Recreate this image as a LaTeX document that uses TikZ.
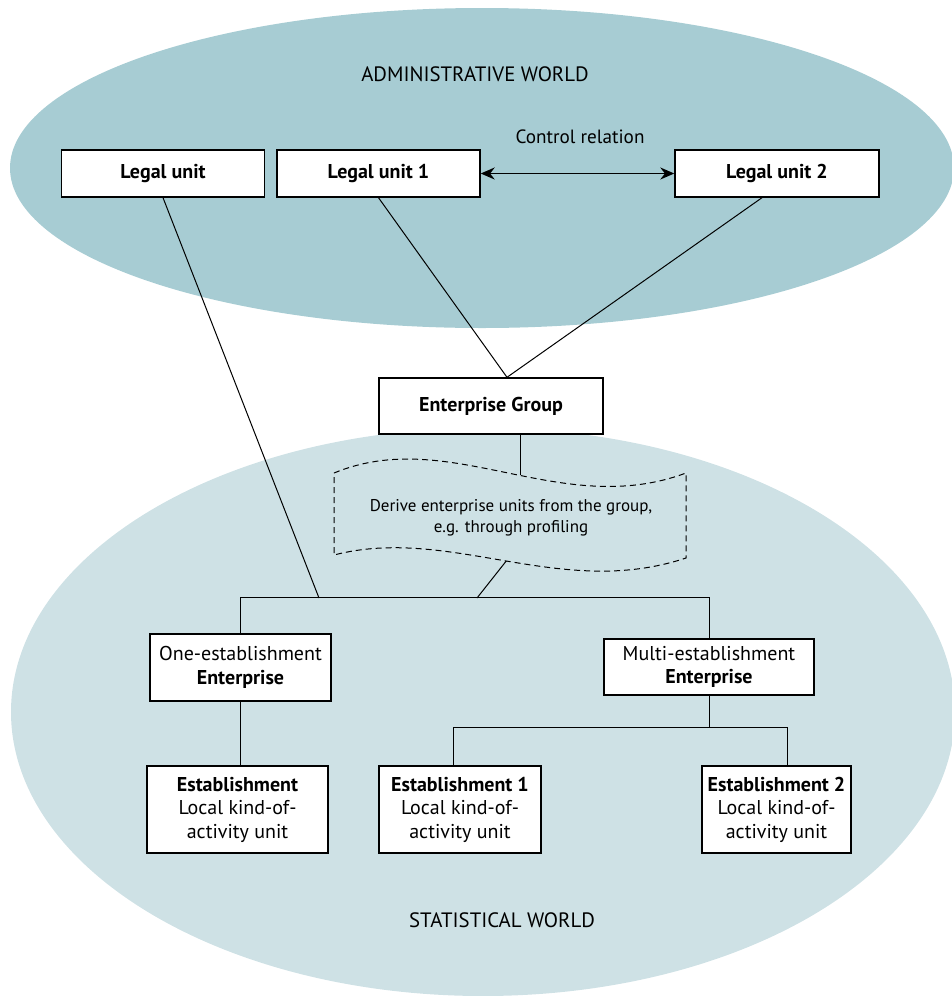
\documentclass[tikz,border=0pt]{standalone}
\usepackage{fontspec}
\setmainfont{PT Sans}
\usetikzlibrary{arrows.meta}

\definecolor{adminworld}{HTML}{A7CCD3}
\definecolor{statworld}{HTML}{CEE1E5}

\begin{document}
\begin{tikzpicture}[x=0.5pt, y=-0.5pt,
    font=\fontsize{10}{11.75}\selectfont,
    unitbox/.style={draw, line width=0.7pt, fill=white, align=center, inner sep=2pt},
    world/.style={font=\fontsize{10.4}{12}\selectfont},
    link/.style={line width=0.5pt}]
   \clip (0,0) rectangle (952,996);
   \fill[adminworld] (482,168) ellipse [x radius=236pt, y radius=80pt];
   \fill[statworld] (483,712) ellipse [x radius=236pt, y radius=142pt];

   \node(AW)[world] at (475,74) {ADMINISTRATIVE WORLD};
   \node(SW)[world] at (502,920) {STATISTICAL WORLD};

   % legal units
   \node(LU)[unitbox, minimum width=101.5pt, minimum height=23.5pt] at (163,173.5) {\textbf{Legal unit}};
   \node(LU1)[unitbox, minimum width=101.5pt, minimum height=23.5pt] at (378.5,173.5) {\textbf{Legal unit 1}};
   \node(LU2)[unitbox, minimum width=102pt, minimum height=23.5pt] at (777,173.5) {\textbf{Legal unit 2}};
   \node(CR)[font=\fontsize{9.6}{11}\selectfont] at (580,137) {Control relation};
   \draw[{Stealth[length=7pt,width=6pt]}-{Stealth[length=7pt,width=6pt]}, line width=0.7pt] (LU1) -- (LU2);

   % group and profiling
   \node(EG)[unitbox, minimum width=112pt, minimum height=28pt] at (491,406) {\textbf{Enterprise Group}};
   \draw[link, dash pattern=on 3pt off 2pt]
    (334,473) .. controls (450,425) and (560,520) .. (686,473) coordinate[pos=0.54](TT)
    -- (686,558) .. controls (560,600) and (450,525) .. (334,555) coordinate[pos=0.5](TB)
    -- cycle;
   \node(DR)[font=\fontsize{8.5}{10.5}\selectfont, align=center] at (511,517.5)
    {Derive enterprise units from the group,\\e.g. through profiling};

   % enterprises
   \node(OE)[unitbox, minimum width=90.5pt, minimum height=33.5pt] at (240.5,667.5) {One-establishment\\\textbf{Enterprise}};
   \node(ME)[unitbox, minimum width=105pt, minimum height=28pt] at (709,667) {Multi-establishment\\\textbf{Enterprise}};

   % establishments
   \node(ES)[unitbox, minimum width=90.5pt, minimum height=43.5pt] at (237.5,809.5) {\textbf{Establishment}\\Local kind-of-\\activity unit};
   \node(ES1)[unitbox, minimum width=81pt, minimum height=43.5pt] at (460,809.5) {\textbf{Establishment 1}\\Local kind-of-\\activity unit};
   \node(ES2)[unitbox, minimum width=74.5pt, minimum height=43.5pt] at (776.5,809.5) {\textbf{Establishment 2}\\Local kind-of-\\activity unit};

   \coordinate(BA) at (319,598);
   \coordinate(BB) at (477,598);
   \draw[link] (LU.south) -- (BA);
   \draw[link] (LU1.south) -- ([xshift=8pt]EG.north);
   \draw[link] ([xshift=-7.5pt]LU2.south) -- ([xshift=8pt]EG.north);
   \draw[link] (TT |- EG.south) -- (TT);
   \draw[link] (TB) -- (BB);
   \draw[link] (OE.north) -- ++(0,-36) -| (ME.north);
   \draw[link] (OE.south) -- (OE.south |- ES.north);
   \draw[link] (ME.south) -- ++(0,32) coordinate(MB) -| ([xshift=-3.5pt]ES1.north);
   \draw[link] (MB) -| ([xshift=5.25pt]ES2.north);
  \end{tikzpicture}
\end{document}
